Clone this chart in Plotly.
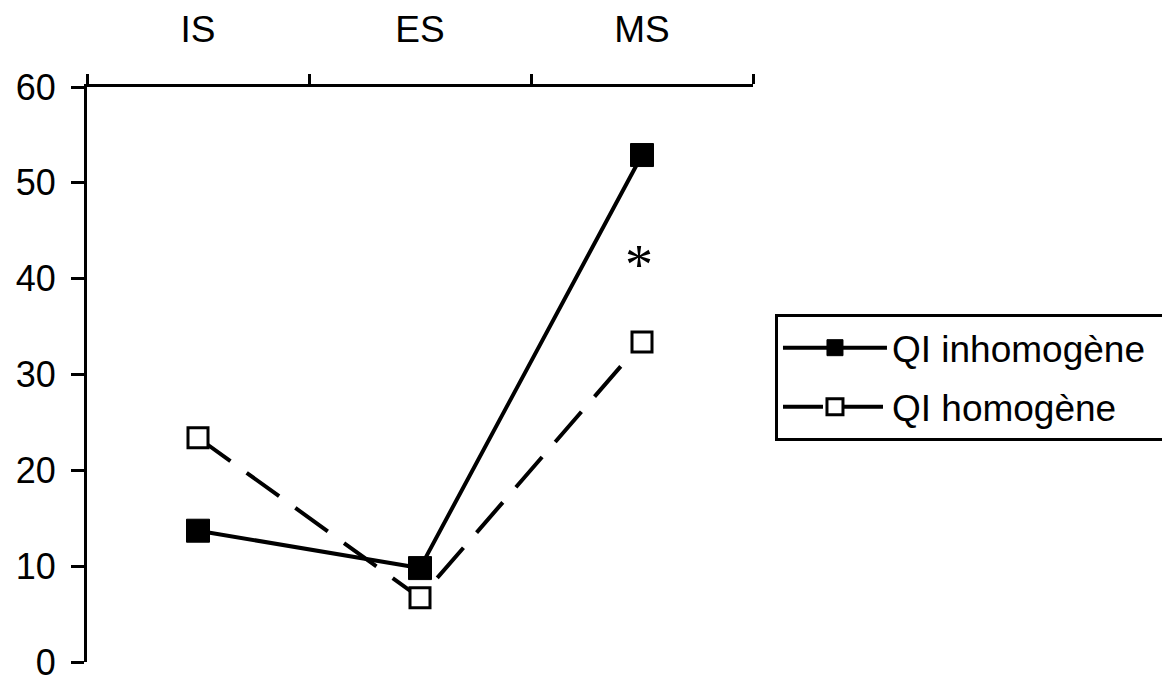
import plotly.graph_objects as go

categories = ["IS", "ES", "MS"]
qi_inhomogene = [13.7, 9.8, 52.9]
qi_homogene = [23.4, 6.7, 33.4]
series_names = ["QI inhomogène", "QI homogène"]
y_ticks = [0, 10, 20, 30, 40, 50, 60]
star_label = "*"
star_category = "MS"
star_value = 41.4

FONT = "Liberation Sans, Arial, sans-serif"
PAD = "\u00a0\u00a0"

fig = go.Figure()
fig.add_trace(go.Scatter(
    x=categories, y=qi_inhomogene, name=series_names[0] + PAD, mode="lines+markers",
    line=dict(color="black", width=4),
    marker=dict(symbol="square", size=23, color="black", line=dict(color="black", width=1)),
    legendgroup="a",
))
fig.add_trace(go.Scatter(
    x=categories, y=qi_homogene, name=series_names[1], mode="lines+markers",
    line=dict(color="black", width=4, dash="40px,20px"),
    marker=dict(symbol="square", size=20, color="white", line=dict(color="black", width=3)),
    legendgroup="b",
))

fig.add_annotation(
    x=star_category, y=star_value, text=star_label, showarrow=False,
    font=dict(family="Liberation Serif, Times New Roman, serif", size=56, color="black"),
    xshift=-3,
)

fig.update_layout(
    width=1170, height=677,
    margin=dict(l=79, r=425, t=79, b=23, autoexpand=False),
    paper_bgcolor="white", plot_bgcolor="white",
    font=dict(family=FONT, size=36, color="black"),
    showlegend=True,
    legend=dict(
        x=1.033, y=0.605, xanchor="left", yanchor="top",
        bordercolor="black", borderwidth=3, bgcolor="white",
        font=dict(family=FONT, size=37, color="black"),
        traceorder="grouped", tracegroupgap=8, itemwidth=104,
    ),
    xaxis=dict(
        type="category", categoryorder="array", categoryarray=categories,
        range=[-0.5, 2.5], side="top", tickson="boundaries",
        ticks="outside", ticklen=10, tickwidth=3, tickcolor="black",
        showline=True, linewidth=3, linecolor="black", automargin=False,
        showgrid=False, zeroline=False, ticklabelstandoff=27,
        tickfont=dict(family=FONT, size=37, color="black"),
    ),
    yaxis=dict(
        range=[0, 60], tickvals=y_ticks,
        ticks="outside", ticklen=13, tickwidth=3, tickcolor="black",
        showline=True, linewidth=3, linecolor="black", automargin=False,
        showgrid=False, zeroline=False, ticklabelstandoff=8,
        ticklabeloverflow="allow",
        tickfont=dict(family=FONT, size=36, color="black"),
    ),
)

fig.write_html("out.html")
